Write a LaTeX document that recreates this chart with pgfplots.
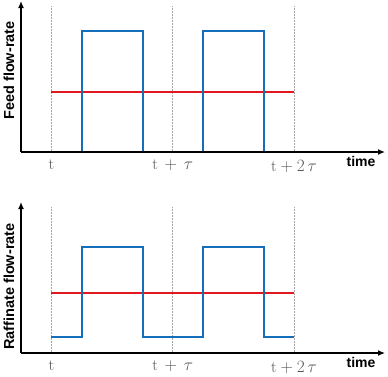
\documentclass[border=0pt]{standalone}
\usepackage{pgfplots}
\pgfplotsset{compat=1.18}
\usepackage{fontspec}
\setsansfont{Liberation Sans}
\usetikzlibrary{arrows.meta}
\definecolor{sqblue}{RGB}{20,110,185}
\definecolor{sqred}{RGB}{225,25,30}
\definecolor{tickgray}{RGB}{85,85,85}
\pgfplotsset{
  panel/.style={
    scale only axis, width=364pt, height=151pt, anchor=south west,
    xmin=-0.25, xmax=2.75, ymin=0, ymax=2.5,
    axis lines=left, axis on top, clip=false,
    axis line style={line width=1.3pt, -{Latex[length=7pt,width=6pt]}},
    ytick=\empty, xtick={0,1,2}, major tick length=0pt,
    xticklabels={$\mathrm{t}$, $\mathrm{t}\,+\,\tau$, $\mathrm{t}+2\,\tau$},
    x tick label style={font=\fontsize{16}{18}\selectfont, text=tickgray, yshift=-4.5pt},
    xlabel={time},
    xlabel style={font=\sffamily\bfseries\fontsize{14}{16}\selectfont, at={(axis description cs:0.934,-0.06)}, anchor=center},
    ylabel style={font=\sffamily\bfseries\fontsize{14.5}{16}\selectfont, anchor=center},
  },
  dotv/.style={color=gray!70, densely dotted, line width=0.5pt},
  blu/.style={color=sqblue, line width=1.7pt},
  rd/.style={color=sqred, line width=1.8pt},
}
\begin{document}
\begin{tikzpicture}[x=1pt,y=1pt]
\path (0,0) rectangle (388,373);
\begin{axis}[panel, at={(21pt,221pt)}, ylabel={Feed flow-rate},
  ylabel style={at={(axis description cs:-0.033,0.54)}}]
\addplot[dotv] coordinates {(0,0) (0,2.41)};
\addplot[dotv] coordinates {(1,0) (1,2.41)};
\addplot[dotv] coordinates {(2,0) (2,2.41)};
\addplot[rd] coordinates {(0,1.0) (2,1.0)};
\addplot[blu] coordinates {(0.25,0) (0.25,2) (0.755,2) (0.755,0)};
\addplot[blu] coordinates {(1.25,0) (1.25,2) (1.755,2) (1.755,0)};
\end{axis}
\begin{axis}[panel, at={(21pt,20pt)}, ylabel={Raffinate flow-rate},
  ylabel style={at={(axis description cs:-0.033,0.44)}}]
\addplot[dotv] coordinates {(0,0) (0,2.43)};
\addplot[dotv] coordinates {(1,0) (1,2.43)};
\addplot[dotv] coordinates {(2,0) (2,2.43)};
\addplot[rd] coordinates {(0,1.0) (2,1.0)};
\addplot[blu] coordinates {(0,0.26) (0.25,0.26) (0.25,1.75) (0.755,1.75) (0.755,0.26) (1.25,0.26) (1.25,1.75) (1.755,1.75) (1.755,0.26) (2,0.26)};
\end{axis}
\end{tikzpicture}
\end{document}
